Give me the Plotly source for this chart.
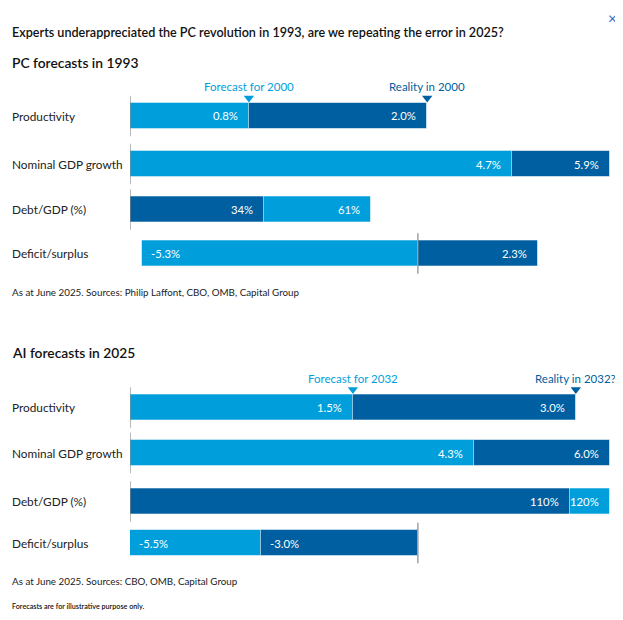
import plotly.graph_objects as go

# ---------------- data ----------------
row_names = ["Productivity", "Nominal GDP growth", "Debt/GDP (%)", "Deficit/surplus"]
pc_forecast = [0.8, 4.7, 61, -5.3]      # Forecast for 2000 (made in 1993)
pc_reality = [2.0, 5.9, 34, 2.3]        # Reality in 2000
ai_forecast = [1.5, 4.3, 120, -5.5]     # Forecast for 2032 (made in 2025)
ai_reality = [3.0, 6.0, 110, -3.0]      # Reality in 2032?
decimals = [1, 1, 0, 1]

panels = [
    dict(title="PC forecasts in 1993", forecast=pc_forecast, reality=pc_reality,
         f_label="Forecast for 2000", r_label="Reality in 2000",
         source="As at June 2025. Sources: Philip Laffont, CBO, OMB, Capital Group",
         ranges=[[0, 3.23], [0, 5.9], [0, 121.5], [-5.53, 3.69]]),
    dict(title="AI forecasts in 2025", forecast=ai_forecast, reality=ai_reality,
         f_label="Forecast for 2032", r_label="Reality in 2032?",
         source="As at June 2025. Sources: CBO, OMB, Capital Group",
         ranges=[[0, 3.23], [0, 6.0], [0, 120], [-5.5, 3.67]]),
]

# ---------------- style / layout ----------------
OFF = 8                     # page body margin
W, H = 623 - OFF, 620 - OFF
LIGHT = "#009FDC"
DARK = "#005FA0"
FONT = "Lato"
TEXT = "#222222"
LEFT = 10
bar_x0, bar_x1 = 130, 610
row_centers = [[116, 164, 209.5, 253.5], [407.5, 453, 501.5, 543]]
title_y = [62, 352]
source_y = [292, 581]
ROW_H = 46
BAR_W = 26 / ROW_H

def px_(x):
    return (x - OFF) / W

def py(y):
    return 1 - (y - OFF) / H

fig = go.Figure()
annotations = []
shapes = []
layout_axes = {}

idx = 0
for p, panel in enumerate(panels):
    for r in range(4):
        idx += 1
        xa = "x" if idx == 1 else f"x{idx}"
        ya = "y" if idx == 1 else f"y{idx}"
        xkey = "xaxis" if idx == 1 else f"xaxis{idx}"
        ykey = "yaxis" if idx == 1 else f"yaxis{idx}"
        c = row_centers[p][r]
        layout_axes[xkey] = dict(domain=[px_(bar_x0), px_(bar_x1)], range=panel["ranges"][r],
                                 visible=False, fixedrange=True, anchor=ya)
        layout_axes[ykey] = dict(domain=[py(c + ROW_H / 2), py(c - ROW_H / 2)], range=[-0.5, 0.5],
                                 visible=False, fixedrange=True, anchor=xa)
        f = panel["forecast"][r]
        rv = panel["reality"][r]
        items = [(f, LIGHT), (rv, DARK)]
        # larger magnitude drawn first, smaller on top
        items.sort(key=lambda t: -abs(t[0]))
        for v, col in items:
            fig.add_trace(go.Bar(x=[v], y=[0], base=0, orientation="h", width=BAR_W,
                                 marker=dict(color=col, line=dict(color="rgba(255,255,255,0.55)", width=1)),
                                 xaxis=xa, yaxis=ya, showlegend=False, hoverinfo="skip"))
        # value labels
        for v in (f, rv):
            txt = f"{v:.{decimals[r]}f}%"
            if v >= 0:
                annotations.append(dict(x=v, y=0, xref=xa, yref=ya, text=txt, showarrow=False,
                                        xanchor="right", xshift=-9, yanchor="middle",
                                        font=dict(family=FONT, size=11.3, color="white")))
            else:
                annotations.append(dict(x=v, y=0, xref=xa, yref=ya, text=txt, showarrow=False,
                                        xanchor="left", xshift=7, yanchor="middle",
                                        font=dict(family=FONT, size=11.3, color="white")))
        # baseline
        shapes.append(dict(type="line", xref=xa, yref=ya, x0=0, x1=0, y0=-0.44, y1=0.44,
                           line=dict(color="#8a8a8a", width=1.2), layer="above"))
        # row label
        annotations.append(dict(x=px_(LEFT), y=py(c), xref="paper", yref="paper", text=row_names[r],
                                showarrow=False, xanchor="left", yanchor="middle",
                                font=dict(family=FONT, size=11.8, color=TEXT)))
        # header markers on first row
        if r == 0:
            fig.add_trace(go.Scatter(x=[f, rv], y=[0.39, 0.39], mode="markers", xaxis=xa, yaxis=ya,
                                     marker=dict(symbol="triangle-down", size=9, color=[LIGHT, DARK]),
                                     cliponaxis=False, showlegend=False, hoverinfo="skip"))
            annotations.append(dict(x=f, y=py(c - 29), xref=xa, yref="paper", text=panel["f_label"],
                                    showarrow=False, xanchor="center", yanchor="middle",
                                    font=dict(family=FONT, size=11.5, color=LIGHT)))
            annotations.append(dict(x=rv, y=py(c - 29), xref=xa, yref="paper", text=panel["r_label"],
                                    showarrow=False, xanchor="center", yanchor="middle",
                                    font=dict(family=FONT, size=11.5, color=DARK)))
    # panel title and source
    annotations.append(dict(x=px_(LEFT), y=py(title_y[p]), xref="paper", yref="paper", text=panel["title"],
                            showarrow=False, xanchor="left", yanchor="middle",
                            font=dict(family=FONT, size=13.8, color="#111111", weight=600)))
    annotations.append(dict(x=px_(LEFT), y=py(source_y[p]), xref="paper", yref="paper", text=panel["source"],
                            showarrow=False, xanchor="left", yanchor="middle",
                            font=dict(family=FONT, size=9.8, color=TEXT)))

annotations.append(dict(x=px_(LEFT), y=py(33), xref="paper", yref="paper",
                        text="Experts underappreciated the PC revolution in 1993, are we repeating the error in 2025?",
                        showarrow=False, xanchor="left", yanchor="middle",
                        font=dict(family=FONT, size=12.6, color="#111111", weight=600)))
annotations.append(dict(x=px_(LEFT), y=py(606), xref="paper", yref="paper",
                        text="Forecasts are for illustrative purpose only.",
                        showarrow=False, xanchor="left", yanchor="middle",
                        font=dict(family=FONT, size=7.2, color="#111111", weight=600)))
annotations.append(dict(x=px_(612), y=py(18), xref="paper", yref="paper", text="×",
                        showarrow=False, xanchor="center", yanchor="middle",
                        font=dict(family=FONT, size=15, color="#2a6cc0")))

fig.update_layout(width=W, height=H, margin=dict(l=0, r=0, t=0, b=0),
                  paper_bgcolor="white", plot_bgcolor="rgba(0,0,0,0)",
                  barmode="overlay", bargap=0, showlegend=False,
                  annotations=annotations, shapes=shapes, **layout_axes)

fig.write_html("out.html")
